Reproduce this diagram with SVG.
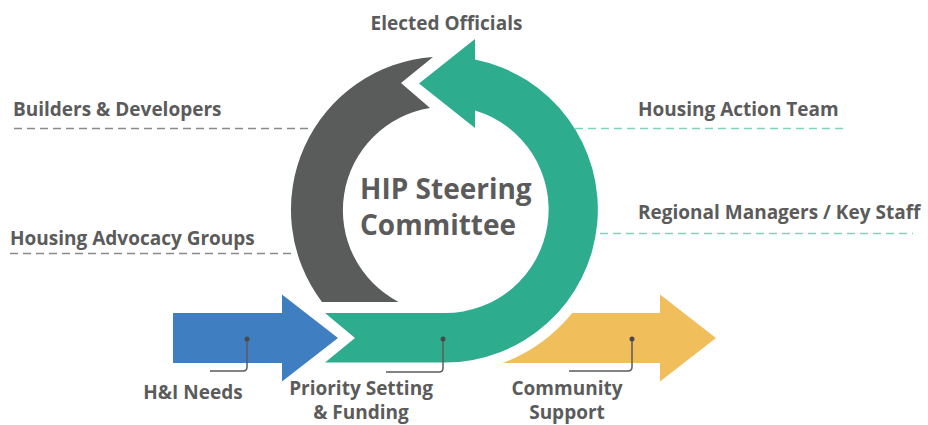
<svg xmlns="http://www.w3.org/2000/svg" width="928" height="425" viewBox="0 0 928 425">
<style>
.lbl{font-family:"Open Sans","Liberation Sans",sans-serif;font-weight:700;font-size:19px;fill:#5b5b5b}
.big{font-family:"Open Sans","Liberation Sans",sans-serif;font-weight:700;font-size:28px;fill:#5b5b5b}
.dg{stroke:#8a8a8a;stroke-width:1.5;stroke-dasharray:8 5;fill:none}
.dt{stroke:#7fd3bd;stroke-width:1.5;stroke-dasharray:8 5;fill:none}
.lead{stroke:#5b5b5b;stroke-width:1.5;fill:none}
.dot{fill:#4a4a4a}
</style>
<rect width="928" height="425" fill="#ffffff"/>
<g id="connectors">
<path class="dg" d="M14,128.5 H312"/>
<path class="dg" d="M10,253.5 H296"/>
<path class="dt" d="M575,128.5 H846"/>
<path class="dt" d="M600,233.5 H913"/>
</g>
<g id="builders-developers"><text class="lbl" x="13" y="116">Builders &amp; Developers</text></g>
<g id="housing-advocacy"><text class="lbl" x="10" y="245">Housing Advocacy Groups</text></g>
<g id="housing-action-team"><text class="lbl" x="638" y="116">Housing Action Team</text></g>
<g id="regional-managers"><text class="lbl" x="638" y="219">Regional Managers / Key Staff</text></g>
<g id="elected-officials"><text class="lbl" x="446.5" y="30" text-anchor="middle">Elected Officials</text></g>
<g id="gray-arc">
<path fill="#5a5b5b" d="M322,302 A153,153 0 0 1 433,57 L401,83 L430,108 A103.5,103.5 0 0 0 398.6,302 Z"/>
</g>
<g id="steering-committee">
<path fill="#2dac8e" d="M325,313 H445 A103.5,103.5 0 0 0 475,110.4 L475,128 L419,83.5 L475,39 L475,59.5 A153,153 0 0 1 445,362.5 H325 L355,338 Z"/>
<text class="big" x="360" y="199">HIP Steering</text>
<text class="big" x="360" y="235">Committee</text>
</g>
<g id="hi-needs">
<path fill="#3f7fc1" d="M173,313 H282 V294.5 L338,338 L282,381.5 V363 H173 Z"/>
<path class="lead" d="M210,371 H243 Q247,371 247,367 V339"/>
<circle class="dot" cx="247" cy="339" r="2.5"/>
<text class="lbl" x="193" y="399" text-anchor="middle">H&amp;I Needs</text>
</g>
<g id="priority-setting">
<path class="lead" d="M386,372 H439 Q443,372 443,368 V339"/>
<circle class="dot" cx="443" cy="339" r="2.5"/>
<text class="lbl" x="361" y="395" text-anchor="middle">Priority Setting</text>
<text class="lbl" x="361" y="419" text-anchor="middle">&amp; Funding</text>
</g>
<g id="community-support">
<path fill="#f0bf5c" d="M572.2,313 H660 V294.5 L716,338 L660,381.5 V363 H502.7 A164,164 0 0 0 572.2,313 Z"/>
<path class="lead" d="M569,371 H628 Q632,371 632,367 V339"/>
<circle class="dot" cx="632" cy="339" r="2.5"/>
<text class="lbl" x="567" y="395" text-anchor="middle">Community</text>
<text class="lbl" x="567" y="419" text-anchor="middle">Support</text>
</g>
</svg>
